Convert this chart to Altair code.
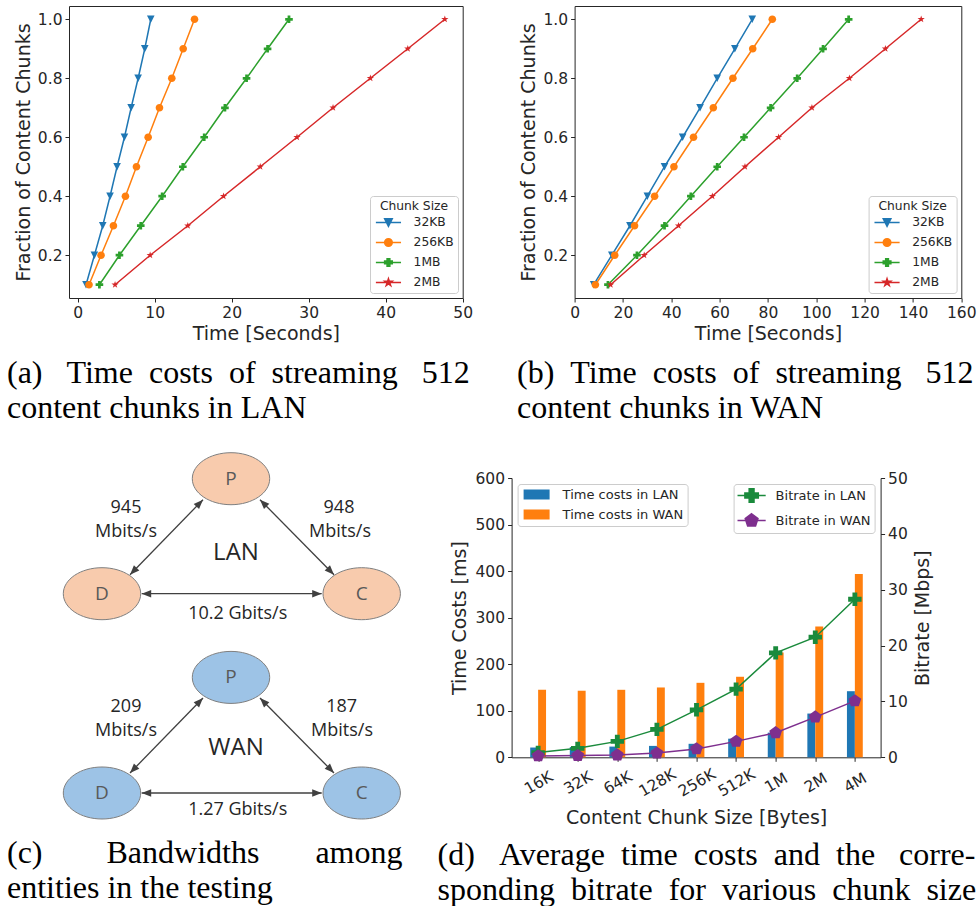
import math
import altair as alt
import pandas as pd

# ---------------- (a)/(b): fraction of content chunks vs time ----------------
fractions = [0.1, 0.2, 0.3, 0.4, 0.5, 0.6, 0.7, 0.8, 0.9, 1.0]
chunk_sizes = ["32KB", "256KB", "1MB", "2MB"]
lan_32kb = [1.08, 2.17, 3.25, 4.20, 5.11, 6.07, 6.94, 7.85, 8.71, 9.49]
lan_256kb = [1.47, 3.03, 4.64, 6.20, 7.63, 9.15, 10.62, 12.22, 13.70, 15.17]
lan_1mb = [2.82, 5.42, 8.19, 10.97, 13.65, 16.43, 19.12, 21.93, 24.66, 27.44]
lan_2mb = [4.85, 9.41, 14.30, 18.94, 23.71, 28.48, 33.16, 38.01, 42.87, 47.68]
wan_32kb = [7.9, 15.4, 22.9, 30.1, 37.2, 44.7, 51.9, 59.0, 66.3, 73.5]
wan_256kb = [8.6, 16.6, 24.8, 33.1, 41.1, 49.2, 57.4, 65.5, 73.7, 81.8]
wan_1mb = [13.8, 25.8, 37.2, 48.1, 59.0, 70.1, 81.1, 92.1, 102.8, 113.4]
wan_2mb = [14.9, 28.8, 43.0, 57.0, 70.5, 84.4, 98.2, 113.7, 128.6, 143.4]
lan_ticks = [0, 10, 20, 30, 40, 50]
wan_ticks = [0, 20, 40, 60, 80, 100, 120, 140, 160]
fraction_ticks = [0.2, 0.4, 0.6, 0.8, 1.0]

# ---------------- (d): time costs and bitrate per chunk size ----------------
chunk_labels = ["16K", "32K", "64K", "128K", "256K", "512K", "1M", "2M", "4M"]
lan_time_ms = [21, 22, 23, 24.5, 29, 40, 53, 94, 142]
wan_time_ms = [145, 143, 145, 150, 160, 173, 225, 281, 394]
lan_bitrate = [0.85, 1.6, 2.85, 5.0, 8.5, 12.2, 18.7, 21.5, 28.3]
wan_bitrate = [0.25, 0.3, 0.42, 0.75, 1.5, 2.85, 4.4, 7.2, 10.1]
bar_series = ["Time costs in LAN", "Time costs in WAN"]
rate_series = ["Bitrate in LAN", "Bitrate in WAN"]
time_ticks = [0, 100, 200, 300, 400, 500, 600]
rate_ticks = [0, 10, 20, 30, 40, 50]

# ---------------- (c): bandwidth diagram ----------------
networks = ["LAN", "WAN"]
node_names = ["P", "D", "C", "P", "D", "C"]
node_net = ["LAN", "LAN", "LAN", "WAN", "WAN", "WAN"]
node_x = [230, 101, 360.7, 230, 101, 360.7]
node_y = [479, 594, 594, 677.7, 793.3, 793.3]
edge_x1 = [129, 259, 140.7, 129, 259, 140.7]
edge_y1 = [575, 500, 594, 773.3, 698.3, 793.3]
edge_x2 = [202, 333, 320.7, 202, 333, 320.7]
edge_y2 = [500, 575, 594, 698.3, 773.3, 793.3]
bw_text = ["945", "Mbits/s", "948", "Mbits/s", "10.2 Gbits/s",
           "209", "Mbits/s", "187", "Mbits/s", "1.27 Gbits/s"]
bw_x = [125, 125, 338, 339, 236.7, 125, 125, 340.7, 341, 236.7]
bw_y = [508.5, 532.5, 508.5, 532.5, 614, 707, 731, 707, 731, 810]
net_label_x = [235, 235]
net_label_y = [553.3, 748.3]

# ---------------- styles ----------------
INK = "#262626"
SANS = "DejaVu Sans"
SERIF = "Liberation Serif"
DIAG_FONT = "Open Sans"
series_colors = ["#1f77b4", "#ff7f0e", "#2ca02c", "#d62728"]
bar_colors = ["#1f77b4", "#ff7f0e"]
rate_colors = ["#1a8a3c", "#7e2f8e"]
node_fills = ["#f8cbad", "#9dc3e6"]
NBSP = "\u00a0"
INDEP = dict(color="independent", shape="independent", fill="independent",
             stroke="independent")


def num(v):
    s = f"{v:.3f}".rstrip("0").rstrip(".")
    return "0" if s in ("-0", "") else s


def pt(x, y):
    return f"{num(x)},{num(y)}"


def polygon(pts):
    return "M" + "L".join(pt(x, y) for x, y in pts) + "Z"


def ellipse_path(rx, ry):
    k = 0.5523
    return ("M" + pt(-rx, 0)
            + "C" + pt(-rx, -k * ry) + " " + pt(-k * rx, -ry) + " " + pt(0, -ry)
            + "C" + pt(k * rx, -ry) + " " + pt(rx, -k * ry) + " " + pt(rx, 0)
            + "C" + pt(rx, k * ry) + " " + pt(k * rx, ry) + " " + pt(0, ry)
            + "C" + pt(-k * rx, ry) + " " + pt(-rx, k * ry) + " " + pt(-rx, 0) + "Z")


def star_path(inner=0.382):
    pts = []
    for k in range(10):
        a = math.radians(-90 + 36 * k)
        r = 1 if k % 2 == 0 else inner
        pts.append((r * math.cos(a), r * math.sin(a)))
    return polygon(pts)


def regular_path(n):
    return polygon([(math.cos(math.radians(-90 + 360 / n * k)),
                     math.sin(math.radians(-90 + 360 / n * k))) for k in range(n)])


A = 0.36
PLUS = polygon([(-A, -1), (A, -1), (A, -A), (1, -A), (1, A), (A, A), (A, 1), (-A, 1),
                (-A, A), (-1, A), (-1, -A), (-A, -A)])
TRI_DOWN = polygon([(-1, -1), (1, -1), (0, 1)])
CIRCLE = ellipse_path(1, 1)
STAR = star_path()
PENTAGON = regular_path(5)
ELLIPSE = ellipse_path(1, 0.672)
ARROW = polygon([(0, 0), (0.75, 1.9), (-0.75, 1.9)])
RECT = polygon([(-2.6, -1), (2.6, -1), (2.6, 1), (-2.6, 1)])
cdf_markers = [TRI_DOWN, CIRCLE, PLUS, STAR]


def with_line(path, half):
    return path + "M" + pt(-half, 0) + "L" + pt(half, 0)


def js_list(items):
    return "[" + ",".join("'" + str(i) + "'" for i in items) + "]"


def spaced(words, gaps):
    out = words[0]
    for w, g in zip(words[1:], gaps):
        out += NBSP * g + w
    return out


def legend(title, orient, offset, font_size, symbol_size, stroke_width,
           symbol_offset, label_offset, row_pad, title_pad=4, symbol_type=None):
    kw = dict(
        orient=orient, offset=offset, fillColor="white", strokeColor="#cccccc",
        cornerRadius=3, padding=4, labelFont=SANS, labelFontSize=font_size,
        labelColor=INK, symbolSize=symbol_size, symbolStrokeWidth=stroke_width,
        symbolOffset=symbol_offset, labelOffset=label_offset, rowPadding=row_pad,
        symbolOpacity=1,
    )
    if symbol_type is not None:
        kw["symbolType"] = symbol_type
    if title is None:
        kw["title"] = None
    else:
        kw.update(title=title, titleFont=SANS, titleFontSize=font_size,
                  titleFontWeight="normal", titleColor=INK, titleAnchor="middle",
                  titlePadding=title_pad)
    return alt.Legend(**kw)


def legend_layer(df, x, y, field, names, colors, paths, leg):
    """Invisible marks whose only job is a legend showing line + marker."""
    return alt.Chart(df).mark_point(opacity=0, filled=False).encode(
        x=x, y=y,
        fill=alt.Fill(f"{field}:N", scale=alt.Scale(domain=names, range=colors), legend=leg),
        stroke=alt.Stroke(f"{field}:N", scale=alt.Scale(domain=names, range=colors), legend=leg),
        shape=alt.Shape(f"{field}:N", scale=alt.Scale(domain=names, range=paths), legend=leg))


axis_style = dict(grid=False, tickSize=4, tickColor=INK, tickWidth=1,
                  labelFont=SANS, labelFontSize=15.5, labelColor=INK, labelPadding=3,
                  labelFlush=False, labelOverlap=False,
                  titleFont=SANS, titleFontSize=19, titleFontWeight="normal",
                  titleColor=INK)


def caption(lines, dx, offset):
    return alt.TitleParams(text=lines, orient="bottom", anchor="start", frame="group",
                           dx=dx, offset=offset, font=SERIF, fontSize=32,
                           fontWeight="normal", color="black", lineHeight=35)


# ---------------- panels (a) and (b) ----------------
def cdf_frame(columns):
    rows = []
    for s, vals in zip(chunk_sizes, columns):
        for f, t in zip(fractions, vals):
            rows.append({"series": s, "fraction": f, "time": t})
    return pd.DataFrame(rows)


def cdf_chart(df, x_domain, x_ticks, width, title):
    cscale = alt.Scale(domain=chunk_sizes, range=series_colors)
    leg = legend("Chunk Size", "bottom-right", 5, 12.3, 58, 1.5, 8.3, 19, 6)
    x = alt.X("time:Q", scale=alt.Scale(domain=x_domain, nice=False, zero=False),
              axis=alt.Axis(values=x_ticks, title="Time [Seconds]", domain=False,
                            titlePadding=4, **axis_style))
    y = alt.Y("fraction:Q", scale=alt.Scale(domain=[0.055, 1.045], nice=False, zero=False),
              axis=alt.Axis(values=fraction_ticks, format=".1f", domain=False,
                            title="Fraction of Content Chunks", titlePadding=4, **axis_style))
    lines = alt.Chart(df).mark_line(strokeWidth=1.5).encode(
        x=x, y=y, color=alt.Color("series:N", scale=cscale, legend=None))
    points = alt.Chart(df).mark_point(filled=True, size=58, opacity=1).encode(
        x=x, y=y, color=alt.Color("series:N", scale=cscale, legend=None),
        shape=alt.Shape("series:N", scale=alt.Scale(domain=chunk_sizes, range=cdf_markers),
                        legend=None))
    key = legend_layer(df, x, y, "series", chunk_sizes, series_colors,
                       [with_line(p, 3.3) for p in cdf_markers], leg)
    return alt.layer(lines, points, key).resolve_scale(
        shape="independent", fill="independent", stroke="independent").properties(
        width=width, height=292, title=title,
        view=alt.ViewBackground(stroke=INK, strokeWidth=1))


panel_a = cdf_chart(cdf_frame([lan_32kb, lan_256kb, lan_1mb, lan_2mb]), [-1.13, 50],
                    lan_ticks, 393.7,
                    caption([spaced(["(a)", "Time", "costs", "of", "streaming", "512"], [3, 2, 2, 2, 3]),
                             "content chunks in LAN"], -62, 14))
panel_b = cdf_chart(cdf_frame([wan_32kb, wan_256kb, wan_1mb, wan_2mb]), [0, 160],
                    wan_ticks, 386.7,
                    caption([spaced(["(b)", "Time", "costs", "of", "streaming", "512"], [2, 2, 2, 2, 3]),
                             "content chunks in WAN"], -57.6, 14))

# ---------------- panel (c) ----------------
nodes_df = pd.DataFrame({"name": node_names, "net": node_net, "x": node_x, "y": node_y})
edges_df = pd.DataFrame({"x1": edge_x1, "y1": edge_y1, "x2": edge_x2, "y2": edge_y2})
heads = []
for x1, y1, x2, y2 in zip(edge_x1, edge_y1, edge_x2, edge_y2):
    for tx, ty, fx, fy in ((x1, y1, x2, y2), (x2, y2, x1, y1)):
        ang = math.degrees(math.atan2(tx - fx, -(ty - fy))) % 360
        heads.append({"x": tx, "y": ty, "angle": ang})
heads_df = pd.DataFrame(heads)
bw_df = pd.DataFrame({"text": bw_text, "x": bw_x, "y": bw_y})
net_df = pd.DataFrame({"text": networks, "x": net_label_x, "y": net_label_y})

xs_c = alt.Scale(domain=[68, 398.4], nice=False, zero=False)
ys_c = alt.Scale(domain=[478.3, 757.6], nice=False, zero=False, reverse=True)
cx = alt.X("x:Q", scale=xs_c, axis=None)
cy = alt.Y("y:Q", scale=ys_c, axis=None)

ellipses = alt.Chart(nodes_df).mark_point(
    shape=ELLIPSE, size=5991, filled=True, opacity=1, stroke="#7f7f7f", strokeWidth=1
).encode(x=cx, y=cy, color=alt.Color("net:N", scale=alt.Scale(domain=networks, range=node_fills),
                                       legend=None))
letters = alt.Chart(nodes_df).mark_text(font=DIAG_FONT, fontSize=19, color="#595959",
                                        baseline="middle", align="center").encode(
    x=cx, y=cy, text="name:N")
edges = alt.Chart(edges_df).mark_rule(color="#404040", strokeWidth=1.3).encode(
    x=alt.X("x1:Q", scale=xs_c, axis=None), y=alt.Y("y1:Q", scale=ys_c, axis=None),
    x2="x2:Q", y2="y2:Q")
arrowheads = alt.Chart(heads_df).mark_point(shape=ARROW, size=100, filled=True, opacity=1,
                                            color="#404040").encode(
    x=cx, y=cy, angle=alt.Angle("angle:Q", scale=None))
bw_labels = alt.Chart(bw_df).mark_text(font=DIAG_FONT, fontSize=18, color=INK,
                                       baseline="middle", align="center").encode(
    x=cx, y=cy, text="text:N")
net_labels = alt.Chart(net_df).mark_text(font=DIAG_FONT, fontSize=24, color=INK,
                                         baseline="middle", align="center").encode(
    x=cx, y=cy, text="text:N")
panel_c = alt.layer(ellipses, letters, edges, arrowheads, bw_labels, net_labels).resolve_scale(
    **INDEP).properties(
    width=330.4, height=279.3,
    title=caption([spaced(["(c)", "Bandwidths", "among"], [8, 7]), "entities in the testing"],
                  -62, 17))

# ---------------- panel (d) ----------------
BAR_W = 0.2
bar_rows, rate_rows = [], []
for i in range(len(chunk_labels)):
    bar_rows.append({"metric": bar_series[0], "x0": i - BAR_W, "x1": i, "ms": lan_time_ms[i]})
    bar_rows.append({"metric": bar_series[1], "x0": i, "x1": i + BAR_W, "ms": wan_time_ms[i]})
    rate_rows.append({"series": rate_series[0], "idx": i, "mbps": lan_bitrate[i]})
    rate_rows.append({"series": rate_series[1], "idx": i, "mbps": wan_bitrate[i]})
bars_df = pd.DataFrame(bar_rows)
rate_df = pd.DataFrame(rate_rows)

d_style = dict(axis_style, domain=True, domainColor=INK, domainWidth=1)
xs_d = alt.Scale(domain=[-0.67, 8.65], nice=False, zero=False)
x_axis_d = alt.Axis(values=list(range(len(chunk_labels))),
                    labelExpr=f"{js_list(chunk_labels)}[datum.value]",
                    labelAngle=330, labelAlign="center", labelBaseline="middle",
                    title="Content Chunk Size [Bytes]", titlePadding=9,
                    **dict(d_style, labelPadding=21))
bar_leg = legend(None, "top-left", 6, 13, 100, 0, 8.5, 19.5, 6, symbol_type=RECT)
rate_leg = legend(None, "top-right", 6, 13, 180, 1.5, 6.5, 16.5, 4)

bars = alt.Chart(bars_df).mark_bar().encode(
    x=alt.X("x0:Q", scale=xs_d, axis=x_axis_d), x2="x1:Q",
    y=alt.Y("ms:Q", scale=alt.Scale(domain=[0, 600], nice=False),
            axis=alt.Axis(values=time_ticks, title="Time Costs [ms]", titlePadding=6, **d_style)),
    y2=alt.datum(0),
    color=alt.Color("metric:N", scale=alt.Scale(domain=bar_series, range=bar_colors),
                    legend=bar_leg))
rate_y = alt.Y("mbps:Q", scale=alt.Scale(domain=[0, 50], nice=False),
               axis=alt.Axis(values=rate_ticks, orient="right", title="Bitrate [Mbps]",
                             titleAngle=270, titleBaseline="top", titlePadding=6, **d_style))
rate_x = alt.X("idx:Q", scale=xs_d, axis=x_axis_d)
rate_color = alt.Color("series:N", scale=alt.Scale(domain=rate_series, range=rate_colors),
                       legend=None)
rate_lines = alt.Chart(rate_df).mark_line(strokeWidth=1.5).encode(x=rate_x, y=rate_y, color=rate_color)
rate_points = alt.Chart(rate_df).mark_point(filled=True, size=180, opacity=1).encode(
    x=rate_x, y=rate_y, color=rate_color,
    shape=alt.Shape("series:N", scale=alt.Scale(domain=rate_series, range=[PLUS, PENTAGON]),
                    legend=None))
rate_key = legend_layer(rate_df, rate_x, rate_y, "series", rate_series, rate_colors,
                        [with_line(PLUS, 2.1), with_line(PENTAGON, 2.1)], rate_leg)
rate_layer = alt.layer(rate_lines, rate_points, rate_key).resolve_scale(
    shape="independent", fill="independent", stroke="independent")
panel_d = alt.layer(bars, rate_layer).resolve_scale(
    y="independent", color="independent").properties(
    width=369, height=279.3,
    title=caption([spaced(["(d)", "Average", "time", "costs", "and", "the", "corre-"],
                          [3, 2, 2, 2, 2, 3]),
                   spaced(["sponding", "bitrate", "for", "various", "chunk", "size"],
                          [2, 2, 2, 2, 2])], -74, 12))

top_row = alt.hconcat(panel_a, panel_b, spacing=111.6, bounds="flush").resolve_scale(**INDEP)
bottom_row = alt.hconcat(panel_c, panel_d, spacing=111.6, bounds="flush").resolve_scale(**INDEP)
chart = alt.vconcat(top_row, bottom_row, spacing=26).resolve_scale(**INDEP).properties(
    padding={"left": 6, "top": 5, "right": 0, "bottom": 0}, background="white"
).configure_view(stroke=None)

chart.save("out.html", embed_options={"renderer": "svg", "actions": False})
